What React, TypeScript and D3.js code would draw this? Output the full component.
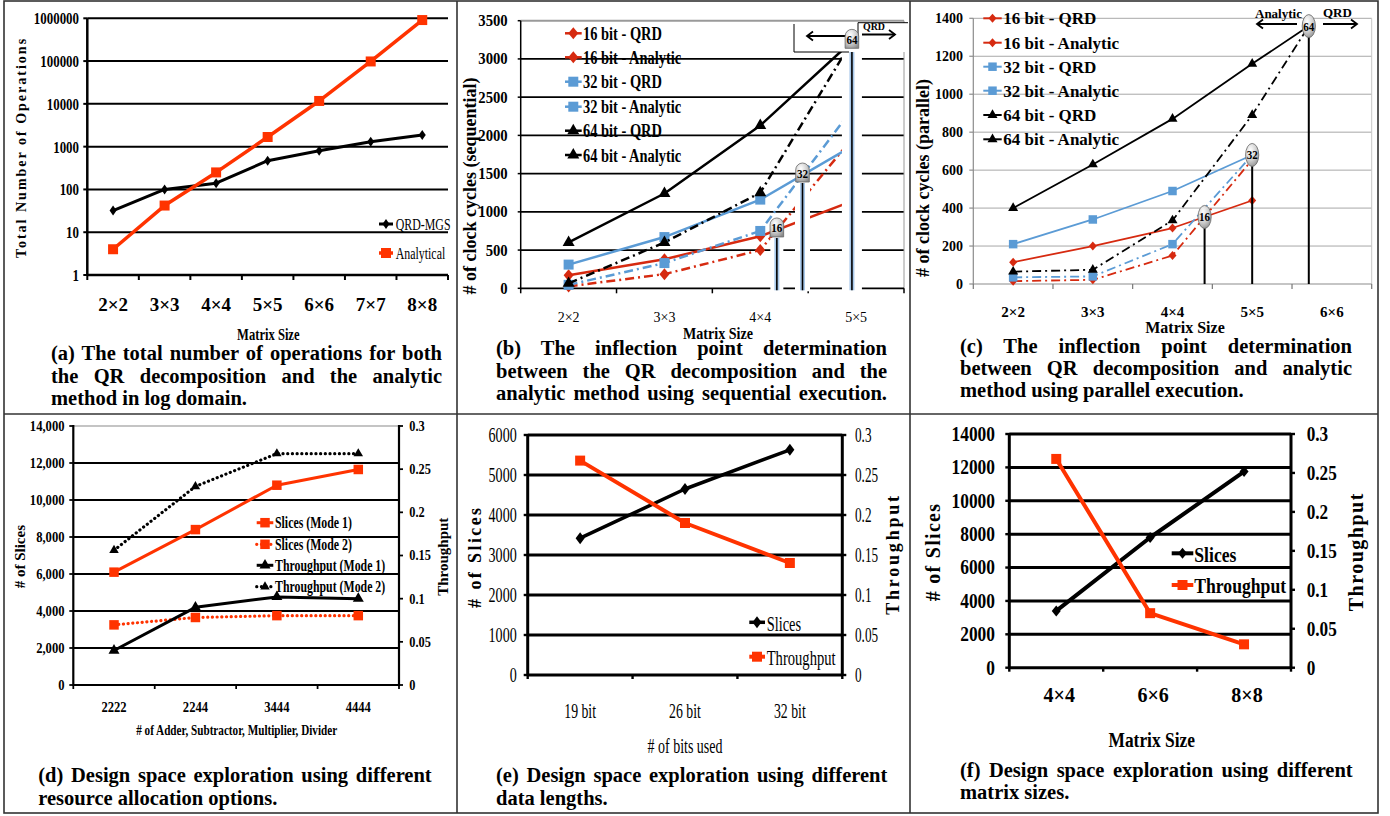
import React, { useLayoutEffect, useRef } from 'react';
import * as d3 from 'd3';

const FONT = '"Liberation Serif","Times New Roman",Times,serif';
const RED = '#ff3300';
const RED2 = '#d62a10';
const BLUE = '#5b9bd5';
const DASHDOT = '9,4,2,4';
const DOTS = '0.1,4.6';

// ---------------- (a) ----------------
const aCategories = ['2×2', '3×3', '4×4', '5×5', '6×6', '7×7', '8×8'];
const aQrdMgs = [32, 100, 140, 470, 800, 1300, 1870];
const aAnalytical = [4, 42, 250, 1680, 11700, 98000, 910000];
const aTicks = [1, 10, 100, 1000, 10000, 100000, 1000000];
const aSeriesNames = ['QRD-MGS', 'Analytical'];

// ---------------- (b) ----------------
const bCategories = ['2×2', '3×3', '4×4', '5×5'];
const b16Qrd = [170, 380, 680, 1160];
const b16Analytic = [25, 185, 500, 2020];
const b32Qrd = [310, 670, 1160, 1890];
const b32Analytic = [45, 330, 750, 2410];
const b64Qrd = [600, 1240, 2130, 3280];
const b64Analytic = [65, 600, 1250, 3320];
const bTicks = [0, 500, 1000, 1500, 2000, 2500, 3000, 3500];

// ---------------- (c) ----------------
const cCategories = ['2×2', '3×3', '4×4', '5×5', '6×6'];
const c16Qrd = [115, 200, 295, 440];
const c16Analytic = [15, 22, 150, 655];
const c32Qrd = [210, 340, 490, 680];
const c32Analytic = [35, 40, 210, 680];
const c64Qrd = [400, 630, 870, 1160, 1440];
const c64Analytic = [65, 75, 335, 890, 1550];
const cTicks = [0, 200, 400, 600, 800, 1000, 1200, 1400];

const bitSeriesNames = ['16 bit - QRD', '16 bit - Analytic', '32 bit - QRD', '32 bit - Analytic', '64 bit - QRD', '64 bit - Analytic'];

// ---------------- (d) ----------------
const dCategories = ['2222', '2244', '3444', '4444'];
const dSlicesMode1 = [6100, 8400, 10800, 11650];
const dSlicesMode2 = [3250, 3650, 3750, 3750];
const dThroughputMode1 = [0.04, 0.09, 0.102, 0.1];
const dThroughputMode2 = [0.156, 0.23, 0.268, 0.268];
const dSliceTicks = [0, 2000, 4000, 6000, 8000, 10000, 12000, 14000];
const dThroughputTicks = [0, 0.05, 0.1, 0.15, 0.2, 0.25, 0.3];
const dSeriesNames = ['Slices (Mode 1)', 'Slices (Mode 2)', 'Throughput (Mode 1)', 'Throughput (Mode 2)'];

// ---------------- (e) ----------------
const eCategories = ['19 bit', '26 bit', '32 bit'];
const eSlices = [3420, 4650, 5630];
const eThroughput = [0.268, 0.19, 0.14];
const eSliceTicks = [0, 1000, 2000, 3000, 4000, 5000, 6000];
const eThroughputTicks = [0, 0.05, 0.1, 0.15, 0.2, 0.25, 0.3];

// ---------------- (f) ----------------
const fCategories = ['4×4', '6×6', '8×8'];
const fSlices = [3400, 7800, 11750];
const fThroughput = [0.268, 0.07, 0.03];
const fSliceTicks = [0, 2000, 4000, 6000, 8000, 10000, 12000, 14000];
const fThroughputTicks = [0, 0.05, 0.1, 0.15, 0.2, 0.25, 0.3];

// ---------------- captions ----------------
const capA = ['(a) The total number of operations for both', 'the QR decomposition and the analytic', 'method in log domain.'];
const capB = ['(b) The inflection point determination', 'between the QR decomposition and the', 'analytic method using sequential execution.'];
const capC = ['(c) The inflection point determination', 'between QR decomposition and analytic', 'method using parallel execution.'];
const capD = ['(d) Design space exploration using different', 'resource allocation options.'];
const capE = ['(e) Design space exploration using different', 'data lengths.'];
const capF = ['(f) Design space exploration using different', 'matrix sizes.'];

type Pt = [number, number];

function T({ x, y, s = 14, w = 700, a = 'start', sx = 1, r = 0, fill = '#000', ls = 0, children }: any) {
  return (
    <text
      transform={`translate(${x},${y}) rotate(${r}) scale(${sx},1)`}
      fontFamily={FONT}
      fontSize={s}
      fontWeight={w}
      textAnchor={a}
      fill={fill}
      letterSpacing={ls || undefined}
    >
      {children}
    </text>
  );
}

function JText({ x, y, width, s, text, justify }: any) {
  const ref = useRef<SVGTextElement>(null);
  useLayoutEffect(() => {
    const el = ref.current;
    if (!el) return;
    el.style.wordSpacing = '0px';
    if (!justify) return;
    const L = el.getComputedTextLength();
    const gaps = text.split(' ').length - 1;
    if (gaps > 0) el.style.wordSpacing = `${(width - L) / gaps}px`;
  }, [text, width, justify]);
  return (
    <text ref={ref} x={x} y={y} fontFamily={FONT} fontSize={s} fontWeight={700} fill="#000">
      {text}
    </text>
  );
}

function Caption({ x, y, width, lh, lines, s = 20.5, justifyAll = false }: any) {
  return (
    <g>
      {lines.map((t: string, k: number) => (
        <JText key={k} x={x} y={y + k * lh} width={width} s={s} text={t} justify={justifyAll || k < lines.length - 1} />
      ))}
    </g>
  );
}

const diamond = (w: number, h: number) => `M0,${-h / 2}L${w / 2},0L0,${h / 2}L${-w / 2},0Z`;
const square = (s: number) => d3.symbol().type(d3.symbolSquare).size(s * s)() as string;
const triangle = (s: number) => d3.symbol().type(d3.symbolTriangle).size((Math.sqrt(3) / 4) * s * s)() as string;

function Line({ pts, color, w, dash, cap = 'butt' }: any) {
  return (
    <path
      d={d3.line()(pts) as string}
      fill="none"
      stroke={color}
      strokeWidth={w}
      strokeDasharray={dash}
      strokeLinejoin="round"
      strokeLinecap={cap}
    />
  );
}

function Marks({ pts, d, fill }: any) {
  return (
    <g>
      {pts.map((p: Pt, k: number) => (
        <path key={k} d={d} transform={`translate(${p[0]},${p[1]})`} fill={fill} />
      ))}
    </g>
  );
}

function crossing(q: number[], a: number[], i: number) {
  const dq = q[i + 1] - q[i];
  const da = a[i + 1] - a[i];
  const t = (q[i] - a[i]) / (da - dq);
  return { i: i + t, v: q[i] + t * dq };
}

function Arrow({ x1, x2, y }: any) {
  const dir = x2 > x1 ? -1 : 1;
  return (
    <g stroke="#000" strokeWidth={1.8} fill="none">
      <line x1={x1} x2={x2} y1={y} y2={y} />
      <path d={`M${x2 + dir * 6},${y - 4.5}L${x2},${y}L${x2 + dir * 6},${y + 4.5}`} />
    </g>
  );
}

// ================= Panel A =================
function PanelA() {
  const X0 = 87.3, X1 = 448, Y0 = 275, Y1 = 18.3;
  const x = d3.scaleBand<string>().domain(aCategories).range([X0, X1]);
  const bw = x.bandwidth();
  const cx = (i: number) => (x(aCategories[i]) as number) + bw / 2;
  const y = d3.scaleLog().domain([1, 1e6]).range([Y0, Y1]);
  const q: Pt[] = aQrdMgs.map((v, i) => [cx(i), y(v)]);
  const an: Pt[] = aAnalytical.map((v, i) => [cx(i), y(v)]);
  const dia = diamond(7, 10);
  const sq = square(10);
  return (
    <g>
      {aTicks.map((t) => (
        <line key={t} x1={X0} x2={X1} y1={y(t)} y2={y(t)} stroke="#000" strokeWidth={t === 1 ? 2.5 : 2} />
      ))}
      <line x1={X0} x2={X0} y1={Y1} y2={Y0 + 1} stroke="#000" strokeWidth={2.5} />
      {aTicks.map((t) => (
        <line key={'k' + t} x1={X0 - 4} x2={X0} y1={y(t)} y2={y(t)} stroke="#000" strokeWidth={2} />
      ))}
      {d3.range(aCategories.length + 1).map((i) => (
        <line key={'b' + i} x1={X0 + i * bw} x2={X0 + i * bw} y1={Y0} y2={Y0 + 5} stroke="#000" strokeWidth={2} />
      ))}
      {aTicks.map((t) => (
        <T key={'l' + t} x={79} y={y(t) + 6} s={17} sx={0.76} a="end">
          {String(t)}
        </T>
      ))}
      {aCategories.map((c, i) => (
        <T key={c} x={cx(i)} y={310.7} s={19} a="middle">
          {c}
        </T>
      ))}
      <Line pts={q} color="#000" w={3} />
      <Line pts={an} color={RED} w={3.5} />
      <Marks pts={q} d={dia} fill="#000" />
      <Marks pts={an} d={sq} fill={RED} />
      <line x1={379} x2={393} y1={224} y2={224} stroke="#000" strokeWidth={3} />
      <path d={dia} transform="translate(386,224)" fill="#000" />
      <T x={395.7} y={230} s={17} w={400} sx={0.7}>
        {aSeriesNames[0]}
      </T>
      <line x1={379} x2={393} y1={253} y2={253} stroke={RED} strokeWidth={3.5} />
      <path d={sq} transform="translate(386,253)" fill={RED} />
      <T x={395.7} y={259.3} s={17} w={400} sx={0.7}>
        {aSeriesNames[1]}
      </T>
      <T x={26} y={147.5} r={-90} s={14} a="middle" ls={2}>
        Total Number of Operations
      </T>
      <T x={268.3} y={340} s={17} sx={0.74} a="middle">
        Matrix Size
      </T>
      <Caption x={51} y={360} width={391} lh={22.5} lines={capA} />
    </g>
  );
}

function Balloon({ x, y, label, rx = 6.8, ry = 11.5, dome = false }: any) {
  const shape = dome ? (
    <path
      d={`M${x - rx},${y + ry - 1}L${x - rx},${y - ry + rx}A${rx},${rx} 0 0 1 ${x + rx},${y - ry + rx}L${x + rx},${y + ry - 1}Z`}
      fill="url(#ball)"
      stroke="#666"
      strokeWidth={0.8}
    />
  ) : (
    <ellipse cx={x} cy={y} rx={rx} ry={ry} fill="url(#ball)" stroke="#666" strokeWidth={0.8} />
  );
  return (
    <g>
      {shape}
      <T x={x} y={y + 4.5} s={13} sx={0.85} a="middle">
        {label}
      </T>
    </g>
  );
}

// ================= Panel B =================
function PanelB() {
  const X0 = 520.7, X1 = 904, Y0 = 288.3, Y1 = 20.7;
  const x = d3.scaleLinear().domain([-0.5, bCategories.length - 0.5]).range([X0, X1]);
  const y = d3.scaleLinear().domain([0, 3500]).range([Y0, Y1]);
  const bw = (X1 - X0) / bCategories.length;
  const pts = (vals: number[]): Pt[] => vals.map((v, i) => [x(i), y(v)]);
  const dia = diamond(10, 12);
  const sq = square(10);
  const tri = triangle(12);
  const series = [
    { vals: b16Qrd, color: RED2, dash: undefined, m: dia },
    { vals: b16Analytic, color: RED2, dash: DASHDOT, m: dia },
    { vals: b32Qrd, color: BLUE, dash: undefined, m: sq },
    { vals: b32Analytic, color: BLUE, dash: DASHDOT, m: sq },
    { vals: b64Qrd, color: '#000', dash: undefined, m: tri },
    { vals: b64Analytic, color: '#000', dash: DASHDOT, m: tri },
  ];
  const infl = [
    { label: '16', ...crossing(b16Qrd, b16Analytic, 2), half: 6.5 },
    { label: '32', ...crossing(b32Qrd, b32Analytic, 2), half: 7.5 },
    { label: '64', ...crossing(b64Qrd, b64Analytic, 2), half: 10 },
  ];
  const legY = [33.3, 57.3, 81.7, 106.7, 130.7, 155];
  return (
    <g>
      {bTicks.slice(1, -1).map((t) => (
        <line key={t} x1={X0} x2={X1} y1={y(t)} y2={y(t)} stroke="#000" strokeWidth={1.8} />
      ))}
      <line x1={X0} x2={X1} y1={Y1} y2={Y1} stroke="#9a9a9a" strokeWidth={2} />
      <line x1={X1} x2={X1} y1={Y1} y2={Y0} stroke="#9a9a9a" strokeWidth={1} />
      <line x1={X0} x2={X0} y1={Y1} y2={Y0 + 1} stroke="#000" strokeWidth={1.5} />
      <line x1={X0} x2={X1} y1={Y0} y2={Y0} stroke="#000" strokeWidth={1.8} />
      {bTicks.map((t) => (
        <line key={'k' + t} x1={X0 - 3} x2={X0} y1={y(t)} y2={y(t)} stroke="#000" strokeWidth={1.5} />
      ))}
      {d3.range(bCategories.length + 1).map((i) => (
        <line key={'b' + i} x1={X0 + i * bw} x2={X0 + i * bw} y1={Y0} y2={Y0 + 5} stroke="#000" strokeWidth={1.5} />
      ))}
      {bTicks.map((t) => (
        <T key={'l' + t} x={507.7} y={y(t) + 5.5} s={16} sx={0.92} a="end">
          {String(t)}
        </T>
      ))}
      {bCategories.map((c, i) => (
        <T key={c} x={x(i)} y={321.5} s={14} w={400} a="middle">
          {c}
        </T>
      ))}
      <T x={718} y={339} s={16} sx={0.88} a="middle">
        Matrix Size
      </T>
      <T x={476} y={186} r={-90} s={18} a="middle">
        # of clock cycles (sequential)
      </T>
      {series.map((s, k) => (
        <g key={k}>
          <Line pts={pts(s.vals)} color={s.color} w={2.5} dash={s.dash} />
          <Marks pts={pts(s.vals)} d={s.m} fill={s.color} />
        </g>
      ))}
      {series.map((s, k) => (
        <g key={'lg' + k}>
          <line x1={565} x2={581.7} y1={legY[k]} y2={legY[k]} stroke={s.color} strokeWidth={2.5} />
          <path d={s.m} transform={`translate(573.3,${legY[k]})`} fill={s.color} />
          <T x={583} y={legY[k] + 6.5} s={19} sx={0.76}>
            {bitSeriesNames[k]}
          </T>
        </g>
      ))}
      {infl.map((p, k) => {
        const px = x(p.i);
        const top = k === 2 ? 52 : y(p.v) + 8;
        return (
          <g key={'in' + k}>
            <rect x={px - p.half} y={top} width={p.half * 2} height={Y0 + 3 - top} fill="#fff" />
            <line x1={px} x2={px} y1={top} y2={Y0 + 2} stroke="#a9c9ea" strokeWidth={5} />
            <line x1={px} x2={px} y1={top} y2={Y0 + 2} stroke="#000" strokeWidth={1.6} />
          </g>
        );
      })}
      <rect x={794} y={23} width={114} height={29} fill="#fff" />
      <line x1={794} x2={794} y1={24} y2={52} stroke="#000" strokeWidth={1} />
      <line x1={794} x2={849} y1={52} y2={52} stroke="#000" strokeWidth={1} />
      <line x1={858} x2={908} y1={22.7} y2={22.7} stroke="#000" strokeWidth={1} />
      <line x1={858} x2={858} y1={22.7} y2={42} stroke="#000" strokeWidth={1} />
      <Arrow x1={847} x2={807} y={36} />
      <Arrow x1={862} x2={895} y={34.5} />
      <T x={863} y={30} s={11} sx={0.9}>
        QRD
      </T>
      {infl.map((p, k) => (
        <Balloon key={'bl' + k} x={x(p.i)} y={y(p.v) - 2} label={p.label} rx={6.8} ry={10} dome />
      ))}
      <Caption x={496} y={355} width={391} lh={22.5} lines={capB} justifyAll />
    </g>
  );
}

// ================= Panel C =================
function PanelC() {
  const X0 = 973.3, X1 = 1371.7, Y0 = 284, Y1 = 18.3;
  const x = d3.scaleLinear().domain([-0.5, cCategories.length - 0.5]).range([X0, X1]);
  const y = d3.scaleLinear().domain([0, 1400]).range([Y0, Y1]);
  const bw = (X1 - X0) / cCategories.length;
  const pts = (vals: number[]): Pt[] => vals.map((v, i) => [x(i), y(v)]);
  const i16 = crossing(c16Qrd, c16Analytic, 2);
  const i32 = crossing(c32Qrd, c32Analytic, 2);
  const i64 = crossing(c64Qrd, c64Analytic, 3);
  const dia = diamond(8, 9);
  const sq = square(8.5);
  const tri = triangle(10);
  const end64: Pt = [x(i64.i), y(i64.v)];
  const series = [
    { p: pts(c16Qrd), mk: pts(c16Qrd), color: RED2, dash: undefined, m: dia },
    { p: pts(c16Analytic), mk: pts(c16Analytic), color: RED2, dash: DASHDOT, m: dia },
    { p: pts(c32Qrd), mk: pts(c32Qrd), color: BLUE, dash: undefined, m: sq },
    { p: pts(c32Analytic), mk: pts(c32Analytic), color: BLUE, dash: DASHDOT, m: sq },
    { p: [...pts(c64Qrd.slice(0, 4)), end64], mk: pts(c64Qrd.slice(0, 4)), color: '#000', dash: undefined, m: tri },
    { p: [...pts(c64Analytic.slice(0, 4)), end64], mk: pts(c64Analytic.slice(0, 4)), color: '#000', dash: DASHDOT, m: tri },
  ];
  const infl = [
    { label: '16', ...i16 },
    { label: '32', ...i32 },
    { label: '64', ...i64 },
  ];
  const legY = [18.3, 42.7, 66.7, 90.7, 115, 139.3];
  return (
    <g>
      {cTicks.slice(1).map((t) => (
        <line key={t} x1={X0} x2={X1} y1={y(t)} y2={y(t)} stroke="#a8a8a8" strokeWidth={1} />
      ))}
      <line x1={X1} x2={X1} y1={Y1} y2={Y0} stroke="#c8c8c8" strokeWidth={1} />
      <line x1={X0} x2={X0} y1={Y1} y2={Y0} stroke="#8c8c8c" strokeWidth={1.2} />
      <line x1={X0} x2={X1} y1={Y0} y2={Y0} stroke="#8c8c8c" strokeWidth={1.2} />
      {cTicks.map((t) => (
        <line key={'k' + t} x1={X0 - 4} x2={X0} y1={y(t)} y2={y(t)} stroke="#8c8c8c" strokeWidth={1.2} />
      ))}
      {d3.range(cCategories.length + 1).map((i) => (
        <line key={'b' + i} x1={X0 + i * bw} x2={X0 + i * bw} y1={Y0} y2={Y0 + 5} stroke="#777" strokeWidth={1.2} />
      ))}
      {cTicks.map((t) => (
        <T key={'m' + t} x={963} y={y(t) + 5} s={14} a="end">
          {String(t)}
        </T>
      ))}
      {cCategories.map((c, i) => (
        <T key={c} x={x(i)} y={316.7} s={15} a="middle">
          {c}
        </T>
      ))}
      <T x={1185} y={333.3} s={16} a="middle">
        Matrix Size
      </T>
      <T x={929} y={178} r={-90} s={18} a="middle">
        # of clock cycles (parallel)
      </T>
      {series.map((s, k) => (
        <g key={k}>
          <Line pts={s.p} color={s.color} w={1.8} dash={s.dash} />
          <Marks pts={s.mk} d={s.m} fill={s.color} />
        </g>
      ))}
      {series.map((s, k) => (
        <g key={'lg' + k}>
          <line x1={983.3} x2={1001.7} y1={legY[k]} y2={legY[k]} stroke={s.color} strokeWidth={2} />
          <path d={s.m} transform={`translate(992.5,${legY[k]})`} fill={s.color} />
          <T x={1003.3} y={legY[k] + 6} s={17}>
            {bitSeriesNames[k]}
          </T>
        </g>
      ))}
      {infl.map((p, k) => (
        <line key={'v' + k} x1={x(p.i)} x2={x(p.i)} y1={y(p.v) + 10} y2={Y0} stroke="#000" strokeWidth={2} />
      ))}
      {infl.map((p, k) => (
        <Balloon key={'bl' + k} x={x(p.i)} y={y(p.v)} label={p.label} rx={6.6} ry={11.5} />
      ))}
      <T x={1255} y={18.3} s={13}>
        Analytic
      </T>
      <Arrow x1={1297} x2={1257} y={24} />
      <T x={1323} y={17.3} s={13}>
        QRD
      </T>
      <Arrow x1={1323} x2={1357} y={24} />
      <Caption x={960} y={352.7} width={392} lh={22.2} lines={capC} />
    </g>
  );
}

// ================= Dual axis panels =================
function DualFrame({ X0, X1, Y0, Y1, cats, yL, yR, lTicks, rTicks, lFmt, rFmt, grid, topGray, axisW, tickLen, lab }: any) {
  const bw = (X1 - X0) / cats.length;
  return (
    <g>
      {lTicks.slice(1).map((t: number, k: number) => (
        <line
          key={t}
          x1={X0}
          x2={X1}
          y1={yL(t)}
          y2={yL(t)}
          stroke={topGray && k === lTicks.length - 2 ? '#8a8a8a' : '#000'}
          strokeWidth={topGray && k === lTicks.length - 2 ? 1.2 : grid}
        />
      ))}
      <line x1={X0} x2={X0} y1={Y1 - 1} y2={Y0 + 1} stroke="#000" strokeWidth={axisW} />
      <line x1={X1} x2={X1} y1={Y1 - 1} y2={Y0 + 1} stroke="#000" strokeWidth={axisW} />
      <line x1={X0} x2={X1} y1={Y0} y2={Y0} stroke="#000" strokeWidth={axisW} />
      {lTicks.map((t: number) => (
        <line key={'lk' + t} x1={X0 - tickLen} x2={X0} y1={yL(t)} y2={yL(t)} stroke="#000" strokeWidth={axisW * 0.8} />
      ))}
      {rTicks.map((t: number) => (
        <line key={'rk' + t} x1={X1} x2={X1 + tickLen} y1={yR(t)} y2={yR(t)} stroke="#000" strokeWidth={axisW * 0.8} />
      ))}
      {d3.range(cats.length + 1).map((i) => (
        <line key={'b' + i} x1={X0 + i * bw} x2={X0 + i * bw} y1={Y0} y2={Y0 + tickLen} stroke="#000" strokeWidth={axisW * 0.8} />
      ))}
      {lTicks.map((t: number) => (
        <T key={'ll' + t} x={lab.lx} y={yL(t) + lab.s * 0.34} s={lab.s} w={lab.w} sx={lab.sx} a="end">
          {lFmt(t)}
        </T>
      ))}
      {rTicks.map((t: number) => (
        <T key={'rl' + t} x={lab.rx} y={yR(t) + lab.s * 0.34} s={lab.s} w={lab.w} sx={lab.rsx ?? lab.sx}>
          {rFmt(t)}
        </T>
      ))}
    </g>
  );
}

const fmtR = (t: number) => String(+t.toFixed(2));

function PanelD() {
  const X0 = 73.3, X1 = 399, Y0 = 685, Y1 = 426;
  const x = d3.scaleLinear().domain([-0.5, dCategories.length - 0.5]).range([X0, X1]);
  const yL = d3.scaleLinear().domain([0, 14000]).range([Y0, Y1]);
  const yR = d3.scaleLinear().domain([0, 0.3]).range([Y0, Y1]);
  const sq = square(9.5);
  const tri = triangle(11);
  const tri2 = triangle(9.5);
  const s1: Pt[] = dSlicesMode1.map((v, i) => [x(i), yL(v)]);
  const s2: Pt[] = dSlicesMode2.map((v, i) => [x(i), yL(v)]);
  const t1: Pt[] = dThroughputMode1.map((v, i) => [x(i), yR(v)]);
  const t2: Pt[] = dThroughputMode2.map((v, i) => [x(i), yR(v)]);
  const legY = [522.7, 544.3, 565.3, 586.7];
  const leg = [
    { color: RED, dot: false, m: sq },
    { color: RED, dot: true, m: sq },
    { color: '#000', dot: false, m: tri },
    { color: '#000', dot: true, m: tri2 },
  ];
  return (
    <g>
      <DualFrame
        X0={X0} X1={X1} Y0={Y0} Y1={Y1} cats={dCategories} yL={yL} yR={yR}
        lTicks={dSliceTicks} rTicks={dThroughputTicks} lFmt={d3.format(',')} rFmt={fmtR}
        grid={2} topGray axisW={2.2} tickLen={4}
        lab={{ lx: 64.5, rx: 409.3, s: 14.5, w: 700, sx: 0.87, rsx: 0.85 }}
      />
      {dCategories.map((c, i) => (
        <T key={c} x={x(i)} y={711.7} s={14} sx={0.9} a="middle">
          {c}
        </T>
      ))}
      <T x={236.7} y={735} s={14.5} sx={0.77} a="middle">
        # of Adder, Subtractor, Multiplier, Divider
      </T>
      <T x={25} y={556.7} r={-90} s={15} a="middle">
        # of Slices
      </T>
      <T x={448} y={556.7} r={-90} s={15} a="middle">
        Throughput
      </T>
      <Line pts={t2} color="#000" w={3.2} dash={DOTS} cap="round" />
      <Line pts={s2} color={RED} w={3.2} dash={DOTS} cap="round" />
      <Line pts={s1} color={RED} w={3} />
      <Line pts={t1} color="#000" w={3} />
      <Marks pts={s1} d={sq} fill={RED} />
      <Marks pts={s2} d={sq} fill={RED} />
      <Marks pts={t1} d={tri} fill="#000" />
      <Marks pts={t2} d={tri2} fill="#000" />
      {leg.map((l, k) => (
        <g key={k}>
          <line
            x1={256.7} x2={273.3} y1={legY[k]} y2={legY[k]}
            stroke={l.color} strokeWidth={l.dot ? 3.2 : 3}
            strokeDasharray={l.dot ? DOTS : undefined}
            strokeLinecap={l.dot ? 'round' : 'butt'}
          />
          <path d={l.m} transform={`translate(265,${legY[k]})`} fill={l.color} />
          <T x={275} y={legY[k] + 5.5} s={16} sx={0.74}>
            {dSeriesNames[k]}
          </T>
        </g>
      ))}
      <Caption x={38.3} y={781.7} width={393.4} lh={23.3} lines={capD} />
    </g>
  );
}

function PanelE() {
  const X0 = 527.7, X1 = 842.3, Y0 = 675, Y1 = 435;
  const x = d3.scaleLinear().domain([-0.5, eCategories.length - 0.5]).range([X0, X1]);
  const yL = d3.scaleLinear().domain([0, 6000]).range([Y0, Y1]);
  const yR = d3.scaleLinear().domain([0, 0.3]).range([Y0, Y1]);
  const dia = diamond(9, 12);
  const sq = square(10);
  const sl: Pt[] = eSlices.map((v, i) => [x(i), yL(v)]);
  const th: Pt[] = eThroughput.map((v, i) => [x(i), yR(v)]);
  return (
    <g>
      <DualFrame
        X0={X0} X1={X1} Y0={Y0} Y1={Y1} cats={eCategories} yL={yL} yR={yR}
        lTicks={eSliceTicks} rTicks={eThroughputTicks} lFmt={String} rFmt={fmtR}
        grid={3} topGray={false} axisW={3} tickLen={4}
        lab={{ lx: 516.7, rx: 855, s: 21, w: 400, sx: 0.67, rsx: 0.63 }}
      />
      {eCategories.map((c, i) => (
        <T key={c} x={x(i)} y={717.5} s={20} w={400} sx={0.69} a="middle">
          {c}
        </T>
      ))}
      <T x={685} y={753.3} s={20} w={400} sx={0.7} a="middle">
        # of bits used
      </T>
      <T x={481} y={556.7} r={-90} s={18} a="middle" ls={2.4}>
        # of Slices
      </T>
      <T x={899} y={554} r={-90} s={18} a="middle" ls={2.8}>
        Throughput
      </T>
      <Line pts={sl} color="#000" w={3.5} />
      <Line pts={th} color={RED} w={4} />
      <Marks pts={sl} d={dia} fill="#000" />
      <Marks pts={th} d={sq} fill={RED} />
      <line x1={749.3} x2={765} y1={622.3} y2={622.3} stroke="#000" strokeWidth={3.5} />
      <path d={dia} transform="translate(757,622.3)" fill="#000" />
      <T x={766.7} y={630.5} s={20} w={400} sx={0.72}>
        Slices
      </T>
      <line x1={749.3} x2={765} y1={656.7} y2={656.7} stroke={RED} strokeWidth={4} />
      <path d={sq} transform="translate(757,656.7)" fill={RED} />
      <T x={766.7} y={664.5} s={20} w={400} sx={0.73}>
        Throughput
      </T>
      <Caption x={496} y={781.7} width={391.3} lh={23.3} lines={capE} />
    </g>
  );
}

function PanelF() {
  const X0 = 1009.3, X1 = 1291, Y0 = 667.7, Y1 = 434;
  const x = d3.scaleLinear().domain([-0.5, fCategories.length - 0.5]).range([X0, X1]);
  const yL = d3.scaleLinear().domain([0, 14000]).range([Y0, Y1]);
  const yR = d3.scaleLinear().domain([0, 0.3]).range([Y0, Y1]);
  const dia = diamond(9, 11);
  const sq = square(10);
  const sl: Pt[] = fSlices.map((v, i) => [x(i), yL(v)]);
  const th: Pt[] = fThroughput.map((v, i) => [x(i), yR(v)]);
  return (
    <g>
      <DualFrame
        X0={X0} X1={X1} Y0={Y0} Y1={Y1} cats={fCategories} yL={yL} yR={yR}
        lTicks={fSliceTicks} rTicks={fThroughputTicks} lFmt={String} rFmt={fmtR}
        grid={3} topGray={false} axisW={3} tickLen={4}
        lab={{ lx: 995, rx: 1306.7, s: 20, w: 700, sx: 0.87, rsx: 0.86 }}
      />
      {fCategories.map((c, i) => (
        <T key={c} x={x(i) + 3} y={701.7} s={20} a="middle">
          {c}
        </T>
      ))}
      <T x={1151.7} y={746.7} s={20} sx={0.87} a="middle">
        Matrix Size
      </T>
      <T x={940} y={552} r={-90} s={20} a="middle" ls={1.3}>
        # of Slices
      </T>
      <T x={1363} y={551.7} r={-90} s={20} a="middle" ls={1.5}>
        Throughput
      </T>
      <Line pts={sl} color="#000" w={4} />
      <Line pts={th} color={RED} w={4} />
      <Marks pts={sl} d={dia} fill="#000" />
      <Marks pts={th} d={sq} fill={RED} />
      <line x1={1171.7} x2={1193.3} y1={553.3} y2={553.3} stroke="#000" strokeWidth={4} />
      <path d={dia} transform="translate(1182.5,553.3)" fill="#000" />
      <T x={1194.3} y={561.5} s={21} sx={0.84}>
        Slices
      </T>
      <line x1={1171.7} x2={1193.3} y1={585} y2={585} stroke={RED} strokeWidth={4} />
      <path d={sq} transform="translate(1182.5,585)" fill={RED} />
      <T x={1194.3} y={593.3} s={21} sx={0.84}>
        Throughput
      </T>
      <Caption x={960} y={776.7} width={392.7} lh={22.6} lines={capF} />
    </g>
  );
}

export default function App() {
  return (
    <svg
      width={1390}
      height={816}
      viewBox="0 0 1390 816"
      style={{ display: 'block', position: 'absolute', left: 0, top: 0, background: '#fff' }}
    >
      <defs>
        <radialGradient id="ball" cx="38%" cy="30%" r="80%">
          <stop offset="0%" stopColor="#ffffff" />
          <stop offset="55%" stopColor="#cfcfcf" />
          <stop offset="100%" stopColor="#8a8a8a" />
        </radialGradient>
      </defs>
      <rect width={1390} height={816} fill="#fff" />
      <PanelA />
      <PanelB />
      <PanelC />
      <PanelD />
      <PanelE />
      <PanelF />
      <g stroke="#333" strokeWidth={1.6} fill="none">
        <rect x={4} y={1} width={1374} height={812} />
        <line x1={457} x2={457} y1={1} y2={813} />
        <line x1={910} x2={910} y1={1} y2={813} />
        <line x1={4} x2={1378} y1={414} y2={414} />
      </g>
    </svg>
  );
}
